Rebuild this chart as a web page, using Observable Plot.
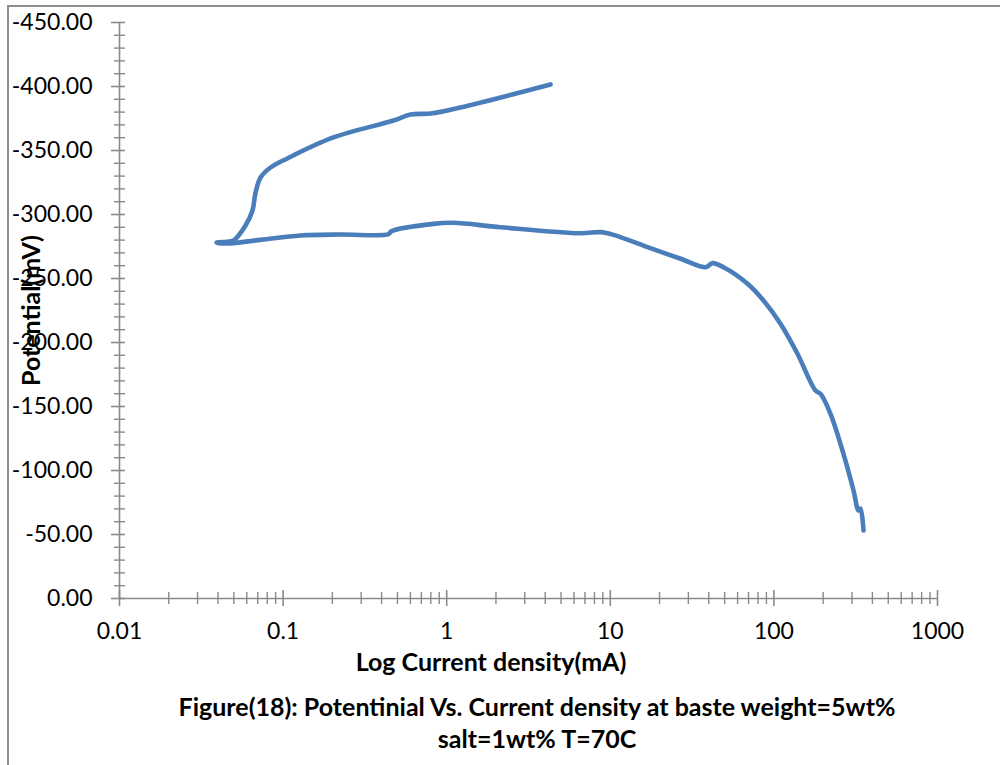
<!DOCTYPE html>
<html>
<head>
<meta charset="utf-8">
<script src="https://cdn.jsdelivr.net/npm/d3@7"></script>
<script src="https://cdn.jsdelivr.net/npm/@observablehq/plot@0.6"></script>
<style>
  html, body { margin: 0; padding: 0; background: #fff; }
  #wrap { position: relative; width: 1000px; height: 765px; overflow: hidden; font-family: Lato, "Open Sans", sans-serif; }
  #frame { position: absolute; left: 7px; top: 5px; width: 1100px; height: 900px; border-left: 2px solid #8e8e8e; border-top: 2px solid #8e8e8e; }
  #chart { position: absolute; left: 0; top: 0; }
  .lbl { position: absolute; font-weight: bold; color: #000; white-space: nowrap; transform: translate(-50%, -50%); font-size: 25px; }
</style>
</head>
<body>
<div id="wrap">
  <div id="frame"></div>
  <div id="chart"></div>
  <div class="lbl" style="left:491px; top:661px;">Log Current density(mA)</div>
  <div class="lbl" style="left:537px; top:706px;">Figure(18): Potentinial Vs. Current density at baste weight=5wt%</div>
  <div class="lbl" style="left:537px; top:738px;">salt=1wt% T=70C</div>
</div>
<script>
// Upper (cathodic) branch, from highest potential down to the corrosion potential
const currentUpper = [4.31, 1.21, 0.80, 0.60, 0.473, 0.203, 0.106, 0.0838, 0.0728, 0.0677, 0.065, 0.0589, 0.0498, 0.047, 0.0392];
const potentialUpper = [-401.6, -383.6, -378.9, -378.1, -373.4, -360.2, -343.8, -336.7, -328.9, -316.4, -303.1, -291.4, -279.7, -278.9, -278.0];
// Lower (anodic) branch
const currentLower = [0.0445, 0.0728, 0.1276, 0.2244, 0.4406, 0.460, 0.830, 1.10, 2.13, 6.57, 8.71, 10.47, 16.9, 26.9, 38.2, 42.2, 49.2, 69.0, 86.4, 109.7, 139.3, 179.6, 192.6, 221.8, 266.2, 306.7, 328.9, 338.1, 353.0];
const potentialLower = [-277.3, -280.2, -283.6, -284.4, -284.6, -287.0, -292.7, -293.5, -290.1, -285.4, -286.2, -284.1, -274.5, -265.4, -258.8, -262.0, -258.8, -245.9, -232.8, -214.6, -191.2, -162.5, -159.9, -144.3, -113.0, -84.4, -68.75, -70.3, -53.1];

const xMajorTicks = [0.01, 0.1, 1, 10, 100, 1000];
const yMajorTicks = [0, -50, -100, -150, -200, -250, -300, -350, -400, -450];

const currents = currentUpper.concat(currentLower);
const potentials = potentialUpper.concat(potentialLower);
const data = currents.map((c, i) => ({current: c, potential: potentials[i]}));

const xMinorTicks = [];
for (let e = -2; e < 3; e++) for (let m = 2; m <= 9; m++) xMinorTicks.push(m * Math.pow(10, e));
const yMinorTicks = d3.range(0, -451, -10).filter(v => v % 50 !== 0);

const axisColor = "#8a8a8a";

const chart = Plot.plot({
  width: 1000,
  height: 645,
  marginLeft: 119,
  marginRight: 63,
  marginTop: 22,
  marginBottom: 47,
  style: { fontFamily: "Lato, 'Open Sans', sans-serif", fontSize: "23px", color: "#000", background: "transparent" },
  x: { type: "log", domain: [0.01, 1000] },
  y: { domain: [0, -450] },
  marks: [
    Plot.ruleX([0.01], { stroke: axisColor, strokeWidth: 1.6 }),
    Plot.ruleY([0], { stroke: axisColor, strokeWidth: 1.6 }),
    Plot.axisY(yMinorTicks, { anchor: "left", tickSize: 11, dx: 6, fill: "none", stroke: axisColor, strokeWidth: 1.4, label: null }),
    Plot.axisY(yMajorTicks, { anchor: "left", tickSize: 14, dx: 6, fill: "none", stroke: axisColor, strokeWidth: 1.6, label: null }),
    Plot.axisY(yMajorTicks, { anchor: "left", tickSize: 0, tickPadding: 27, tickFormat: d => d.toFixed(2), fill: "#000", label: null }),
    Plot.axisX(xMinorTicks, { anchor: "bottom", tickSize: 12, dy: -6, fill: "none", stroke: axisColor, strokeWidth: 1.4, label: null }),
    Plot.axisX(xMajorTicks, { anchor: "bottom", tickSize: 16, dy: -8, fill: "none", stroke: axisColor, strokeWidth: 1.6, label: null }),
    Plot.axisX(xMajorTicks, { anchor: "bottom", tickSize: 0, tickPadding: 24, tickFormat: d => String(d), fill: "#000", label: null }),
    Plot.line(data, { x: "current", y: "potential", stroke: "#4a7ebb", strokeWidth: 4.6, curve: "catmull-rom", strokeLinecap: "round", strokeLinejoin: "round" }),
    Plot.text(["Potential(mV)"], { frameAnchor: "left", textAnchor: "middle", rotate: -90, dx: -88, fontWeight: "bold", fontSize: 25, fill: "#000" })
  ]
});
document.getElementById("chart").appendChild(chart);
</script>
</body>
</html>
